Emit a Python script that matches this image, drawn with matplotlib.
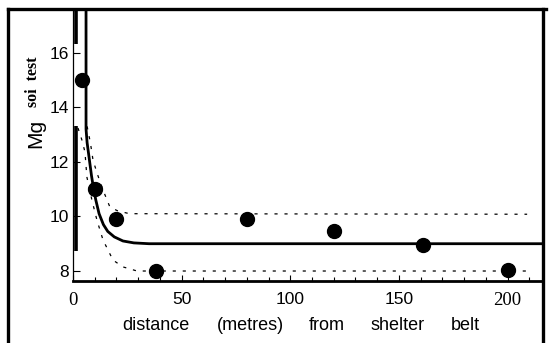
#!/usr/bin/env python
"""soil test Mg against distance from the shelter belt"""
import matplotlib
matplotlib.use('Agg')
import matplotlib.pyplot as plt
from matplotlib.lines import Line2D

plt.rcParams['font.family'] = 'Liberation Sans'

# observed soil test values
dist = [4, 10, 20, 38, 80, 120, 161, 200]
mg = [15.0, 11.0, 9.9, 8.0, 9.9, 9.45, 8.95, 8.05]

# fitted curve, read along its length
fit_x = [6.0, 6.0, 6.5, 7.5, 8.5, 9.5, 10.5, 12, 14, 16, 19, 23, 28, 35, 216]
fit_y = [17.6, 13.2, 12.7, 12.1, 11.5, 11.0, 10.6, 10.1, 9.7, 9.45, 9.25,
         9.1, 9.03, 9.0, 9.0]

# confidence band
upper_x = [6.5, 8.0, 9.2, 11, 13.8, 17, 20.7, 26, 209]
upper_y = [13.3, 12.7, 12.07, 11.6, 10.97, 10.34, 10.2, 10.1, 10.08]
lower_x = [2.3, 4.1, 5.5, 6.4, 8.7, 11, 13.8, 18.4, 23, 29.5, 209]
lower_y = [13.24, 12.8, 12.36, 11.44, 10.6, 9.87, 9.14, 8.4, 8.15, 8.0, 8.0]

xticks = [0, 50, 100, 150, 200]
yticks = [8, 10, 12, 14, 16]
xlabel_words = ['distance', '(metres)', 'from', 'shelter', 'belt']

fig = plt.figure(figsize=(5.54, 3.43), dpi=100)
ax = fig.add_axes([73/554, 1 - 281/343, 470/554, 272/343])
ax.set_xlim(0, 216.3)
ax.set_ylim(7.634, 17.6)

ax.plot(fit_x, fit_y, color='k', lw=2.0, solid_capstyle='butt')
ax.plot(upper_x, upper_y, color='k', lw=0.9, ls=(0, (2.5, 5.5)))
ax.plot(lower_x, lower_y, color='k', lw=0.9, ls=(0, (2.5, 5.5)))
ax.plot(dist, mg, 'o', color='k', ms=10, clip_on=False)

# thick stroke just right of the y axis
ax.plot([1.2, 1.2], [8.75, 13.3], color='k', lw=2.6, solid_capstyle='butt')
ax.plot([1.2, 1.2], [16.3, 17.6], color='k', lw=2.6, solid_capstyle='butt')

for s in ['top', 'right']:
    ax.spines[s].set_visible(False)
ax.spines['bottom'].set_linewidth(2.0)
ax.spines['left'].set_linewidth(0.9)

ax.set_xticks(xticks)
ax.set_xticks(range(10, 211, 10), minor=True)
ax.set_yticks(yticks)
ax.tick_params(axis='x', direction='in', length=4, width=0.8, pad=8)
ax.tick_params(axis='x', which='minor', direction='in', length=3, width=0.8)
ax.tick_params(axis='y', direction='in', length=5, width=0.8, labelsize=12.5, pad=3)
ax.set_xticklabels([str(t) for t in xticks], fontsize=12.5)
for lab in ax.get_xticklabels():
    if lab.get_text() in ('0', '200'):
        lab.set_family('Liberation Serif')
        lab.set_fontsize(13.5)

# y label: Mg with the "soi test" subscript
fig.text(36/554, 1 - 133/343, 'Mg', rotation=90, fontsize=15,
         ha='center', va='center')
fig.text(33/554, 1 - 82/343, 'soi  test', rotation=90, fontsize=11.5,
         family='Liberation Serif', weight='bold', ha='center', va='center')

xpos = [156, 250, 327, 398, 465]
for w, px in zip(xlabel_words, xpos):
    fig.text(px/554, 1 - 326/343, w, fontsize=13, ha='center', va='center')

# outer frame
lw = 2.4
fig.add_artist(Line2D([8/554, 8/554], [0, 1 - 9/343], color='k', lw=lw))
fig.add_artist(Line2D([543/554, 543/554], [0, 1 - 9/343], color='k', lw=lw))
fig.add_artist(Line2D([8/554, 546/554], [1 - 9/343, 1 - 9/343], color='k', lw=lw))

fig.savefig('out.png', dpi=100)
